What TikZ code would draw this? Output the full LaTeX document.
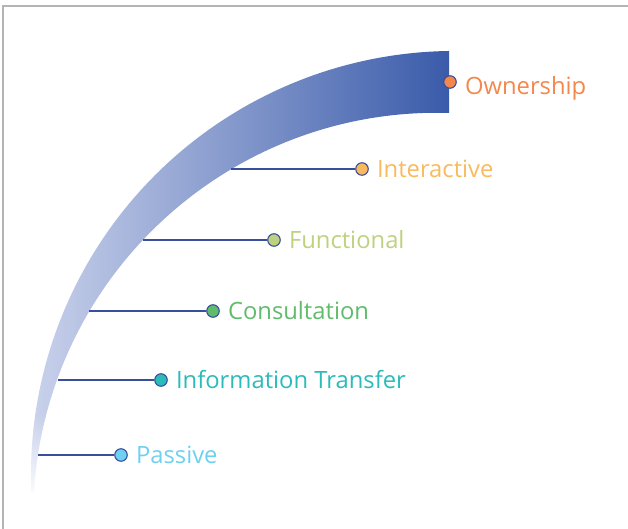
\documentclass[tikz,border=0pt]{standalone}
\usepackage{fontspec}
\setmainfont{Open Sans}
\usetikzlibrary{positioning,fadings}
\definecolor{frame}{HTML}{B4B4B4}
\definecolor{lineblue}{HTML}{3A4F9C}
\definecolor{bandlight}{HTML}{CBD3EC}
\definecolor{bandmid}{HTML}{7585C2}
\definecolor{banddark}{HTML}{3A5BAA}
\definecolor{owncol}{HTML}{F4874B}
\definecolor{intercol}{HTML}{F9BA5F}
\definecolor{funccol}{HTML}{BDD27E}
\definecolor{conscol}{HTML}{5FBC6B}
\definecolor{infocol}{HTML}{2BBBBA}
\definecolor{passcol}{HTML}{6ED0F2}
\tikzset{
  stagedot/.style={circle,draw=lineblue,line width=1.1pt,inner sep=0pt,minimum size=12.5pt},
  stagelabel/.style={font=\fontsize{23.8}{28}\selectfont,inner sep=0pt,text height=17.5pt,text depth=0pt},
  stageline/.style={lineblue,line width=1.3pt}
}

\begin{document}
\begin{tikzpicture}[x=1pt,y=1pt]
\useasboundingbox (0,0) rectangle (628,529);
\draw[frame,line width=2pt] (3,0) -- (3,523) -- (628,523);
% the curved band
\path[left color=bandlight,middle color=bandmid,right color=banddark]
  (449,478) arc[start angle=90.8,end angle=182.4,radius=424]
  -- (33.9,36.2) arc[start angle=176.6,end angle=88.3,radius=404] -- cycle;
\fill[white,path fading=north] (15,28) rectangle (70,115);
% stages
\node[stagedot,fill=owncol] (own) at (450,447) {};
\node[stagelabel,text=owncol,right=8pt of own,yshift=-3.5pt] (ownlbl) {Ownership};

\coordinate (inter0) at (231,360);
\node[stagedot,fill=intercol] (inter) at (362,360) {};
\node[stagelabel,text=intercol,right=8pt of inter] (interlbl) {Interactive};
\draw[stageline] (inter0) -- (inter);

\coordinate (func0) at (143,289);
\node[stagedot,fill=funccol] (func) at (274,289) {};
\node[stagelabel,text=funccol,right=8pt of func] (funclbl) {Functional};
\draw[stageline] (func0) -- (func);

\coordinate (cons0) at (89,218);
\node[stagedot,fill=conscol] (cons) at (213,218) {};
\node[stagelabel,text=conscol,right=8pt of cons] (conslbl) {Consultation};
\draw[stageline] (cons0) -- (cons);

\coordinate (info0) at (58,149);
\node[stagedot,fill=infocol] (info) at (161,149) {};
\node[stagelabel,text=infocol,right=8pt of info] (infolbl) {Information Transfer};
\draw[stageline] (info0) -- (info);

\coordinate (pass0) at (38,74);
\node[stagedot,fill=passcol] (pass) at (121,74) {};
\node[stagelabel,text=passcol,right=8pt of pass] (passlbl) {Passive};
\draw[stageline] (pass0) -- (pass);
\end{tikzpicture}
\end{document}
